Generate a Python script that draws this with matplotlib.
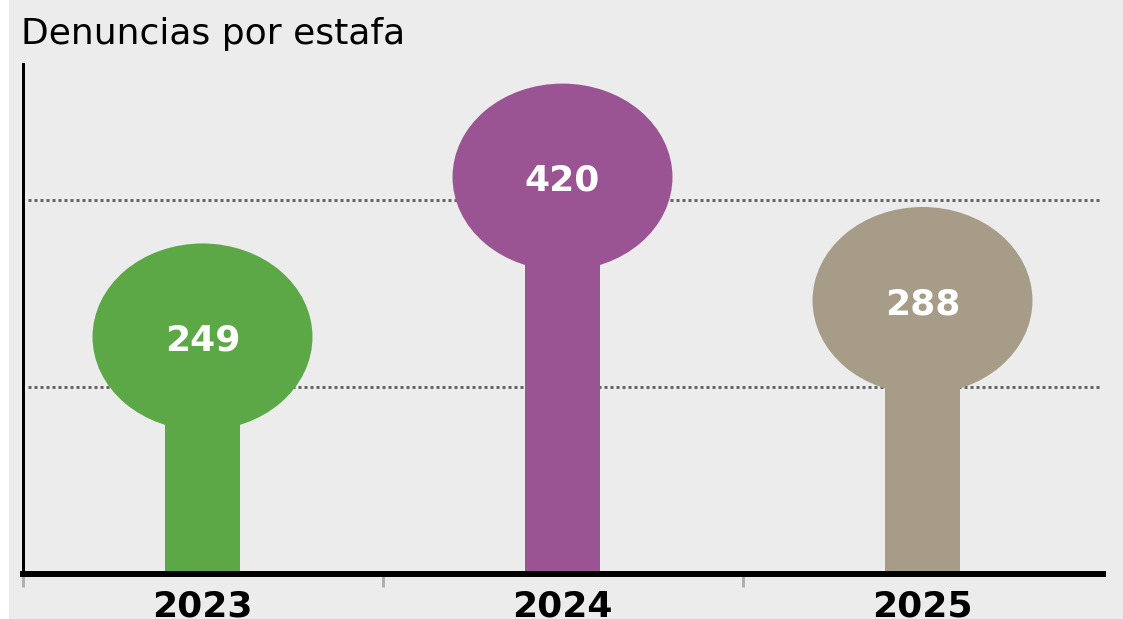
"""Lollipop chart: denuncias por estafa por año."""

import matplotlib

matplotlib.use("Agg")
import matplotlib.pyplot as plt
from matplotlib.patches import Ellipse, Rectangle

TITLE = "Denuncias por estafa"
YEARS = ["2023", "2024", "2025"]
COUNTS = [249, 420, 288]
COLORS = ["#5da846", "#9b5493", "#a69c88"]
GRID_VALUES = [200, 400]

BG = "#ececec"

fig = plt.figure(figsize=(11.23, 6.19), dpi=100, facecolor=BG)
# white strip at the very left of the original screenshot
fig.patches.append(Rectangle((0, 0), 9 / 1123, 1, transform=fig.transFigure,
                             facecolor="white", edgecolor="none", zorder=-1))

ax = fig.add_axes([22.5 / 1123, 0.0735, 1080 / 1123, 0.8232])
ax.set_facecolor(BG)
ax.set_xlim(-0.5, 2.5)
ax.set_ylim(0, 545)

# dotted guide lines
for g in GRID_VALUES:
    ax.axhline(g, xmin=0.005, xmax=0.9995, color="#666666", linewidth=2.16,
               linestyle=(0, (1, 1)), dash_capstyle="butt", zorder=1)

xs = range(len(YEARS))
ax.bar(xs, COUNTS, width=0.21, color=COLORS, zorder=2)

# heads of the lollipops
for x, v, c in zip(xs, COUNTS, COLORS):
    ax.add_patch(Ellipse((x, v + 4), width=0.611, height=200, facecolor=c,
                         edgecolor="none", zorder=3))
    ax.text(x, v, str(v), ha="center", va="center", color="white",
            fontsize=26, fontweight="bold", zorder=4)

for side in ["top", "right"]:
    ax.spines[side].set_visible(False)
ax.spines["left"].set_linewidth(2.16)
ax.spines["bottom"].set_linewidth(4.3)
ax.spines["left"].set_zorder(5)
ax.spines["bottom"].set_zorder(5)

ax.set_yticks([])
ax.set_xticks(list(xs))
ax.set_xticklabels(YEARS, fontsize=26, fontweight="bold")
ax.tick_params(axis="x", which="major", length=0, pad=11.5)
ax.set_xticks([-0.5, 0.5, 1.5], minor=True)
ax.tick_params(axis="x", which="minor", length=9.7, width=2.16,
               color="#b0b0b0", direction="out")

fig.text(21 / 1123, (619 - 44) / 619, TITLE, fontsize=26, va="baseline",
         ha="left", color="black")

fig.savefig("out.png", dpi=100, facecolor=BG)
plt.close(fig)
